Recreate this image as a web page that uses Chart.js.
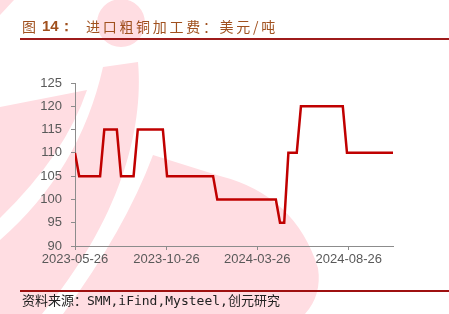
<!DOCTYPE html>
<html>
<head>
<meta charset="utf-8">
<script src="https://cdn.jsdelivr.net/npm/chart.js@4.4.1/dist/chart.umd.min.js"></script>
<style>
  html, body { margin: 0; padding: 0; background: #fff; width: 449px; height: 314px; overflow: hidden; }
  #wrap { position: relative; width: 449px; height: 314px; }
  canvas { position: absolute; left: 0; top: 0; }
  .t { position: absolute; white-space: nowrap; color: #A0501E; font-family: "Noto Sans CJK SC", sans-serif; font-size: 14px; line-height: 14px; }
  #t1 { left: 22px; top: 19px; }
  #t2 { left: 42px; top: 19px; font-family: "Liberation Sans", Arial, sans-serif; font-weight: bold; font-size: 15px; }
  #t3 { left: 86px; top: 19px; letter-spacing: 2.7px; }
  #rule1 { position: absolute; left: 20px; top: 38px; width: 429px; height: 1.5px; background: #9E1B1B; }
  #rule2 { position: absolute; left: 20px; top: 290px; width: 429px; height: 1.5px; background: #9E1010; }
  #src { position: absolute; left: 22px; top: 294px; white-space: nowrap; color: #222; font-family: "DejaVu Sans Mono", "Noto Sans CJK SC", monospace; font-size: 13px; line-height: 14px; }
</style>
</head>
<body>
<div id="wrap">
  <canvas id="c" width="449" height="314" style="width:449px;height:314px"></canvas>
  <div class="t" id="t1">图</div>
  <div class="t" id="t2">14：</div>
  <div class="t" id="t3">进口粗铜加工费：美元/吨</div>
  <div id="rule1"></div>
  <div id="rule2"></div>
  <div id="src">资料来源：SMM,iFind,Mysteel,创元研究</div>
</div>
<script>
// ---- data ----
const dates = ['2023-05-26','2023-06-02','2023-07-07','2023-07-14','2023-08-04','2023-08-11',
  '2023-09-01','2023-09-08','2023-10-20','2023-10-27','2024-01-12','2024-01-19',
  '2024-04-26','2024-05-03','2024-05-10','2024-05-17','2024-05-31','2024-06-07',
  '2024-08-16','2024-08-23','2024-11-08'];
const values = [110,105,105,115,115,105,105,115,115,105,105,100,100,95,95,110,110,120,120,110,110];
const tickDates = ['2023-05-26','2023-10-26','2024-03-26','2024-08-26'];
const yMin = 90, yMax = 125, yStep = 5;

const base = Date.UTC(2023,4,26);
function toDay(s){ const p = s.split('-').map(Number); return Math.round((Date.UTC(p[0],p[1]-1,p[2]) - base)/86400000); }
const points = dates.map((d,i)=>({x: toDay(d), y: values[i]}));
const xMax = toDay(dates[dates.length-1]);

const watermark = {
  id: 'watermark',
  beforeDraw(chart){
    const ctx = chart.ctx;
    ctx.save();
    ctx.fillStyle = 'rgb(255,221,226)';
    // top-left corner
    ctx.beginPath(); ctx.moveTo(0,0); ctx.lineTo(14,0); ctx.lineTo(0,15); ctx.closePath(); ctx.fill();
    // top circle
    ctx.beginPath(); ctx.arc(121,23,24,0,Math.PI*2); ctx.fill();
    // left region
    ctx.beginPath(); ctx.moveTo(0,107); ctx.lineTo(87,90); ctx.quadraticCurveTo(65,155,0,218); ctx.closePath(); ctx.fill();
    // middle band
    ctx.beginPath(); ctx.moveTo(103,67); ctx.lineTo(138,62);
    ctx.bezierCurveTo(144,130,120,220,42,314); ctx.lineTo(0,314); ctx.lineTo(0,240);
    ctx.quadraticCurveTo(80,170,103,67); ctx.closePath(); ctx.fill();
    // right region
    ctx.beginPath(); ctx.moveTo(153,155); ctx.lineTo(220,176);
    ctx.quadraticCurveTo(295,195,318,268); ctx.quadraticCurveTo(322,295,305,314);
    ctx.lineTo(63,314); ctx.quadraticCurveTo(125,230,153,155); ctx.closePath(); ctx.fill();
    ctx.restore();
  }
};

const axisColor = '#8C8C8C';
const tickFont = { family: '"Liberation Sans", Arial, sans-serif', size: 13 };

new Chart(document.getElementById('c'), {
  type: 'line',
  data: { datasets: [{ data: points, borderColor: '#C00000', borderWidth: 2.5, pointRadius: 0, tension: 0, fill: false }] },
  options: {
    responsive: false, animation: false, devicePixelRatio: 1,
    layout: { padding: { left: 0, right: 56, top: 83, bottom: 0 } },
    plugins: { legend: { display: false }, tooltip: { enabled: false }, title: { display: false } },
    scales: {
      x: {
        type: 'linear', min: 0, max: xMax,
        afterBuildTicks(scale){ scale.ticks = tickDates.map(d=>({ value: toDay(d) })); },
        afterFit(scale){ scale.height = 68; },
        ticks: { font: tickFont, color: '#595959', padding: 2, maxRotation: 0, autoSkip: false,
          callback(v){ const i = tickDates.findIndex(d=>toDay(d)===v); return i>=0 ? tickDates[i] : ''; } },
        grid: { display: true, drawOnChartArea: false, drawTicks: true, tickLength: 4, color: axisColor },
        border: { display: true, color: axisColor, width: 1 }
      },
      y: {
        min: yMin, max: yMax,
        afterFit(scale){ scale.width = 75; },
        ticks: { stepSize: yStep, font: tickFont, color: '#595959', padding: 9 },
        grid: { display: true, drawOnChartArea: false, drawTicks: true, tickLength: 4, color: axisColor },
        border: { display: true, color: axisColor, width: 1 }
      }
    }
  },
  plugins: [watermark]
});
</script>
</body>
</html>
